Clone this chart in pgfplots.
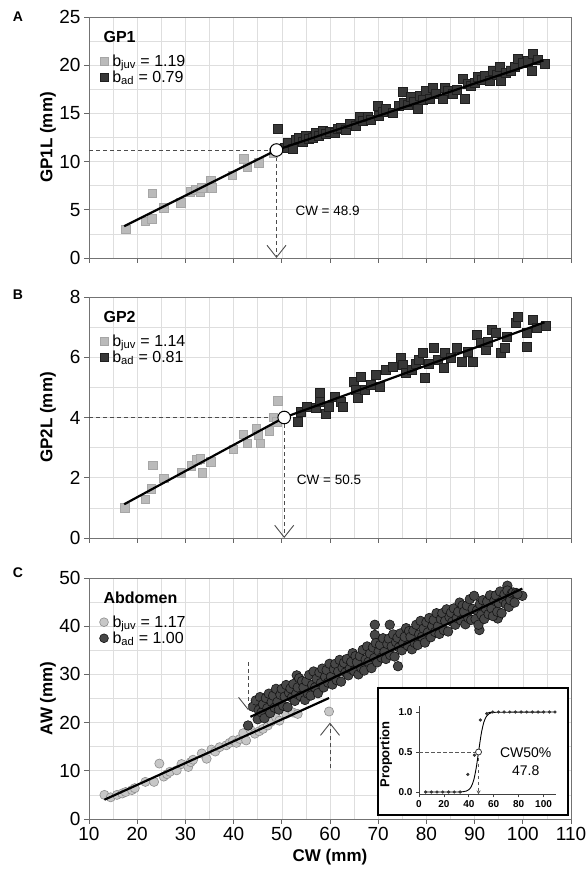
\documentclass[border=0pt]{standalone}
\usepackage{fontspec}
\setmainfont{Liberation Sans}
\usepackage{pgfplots}
\pgfplotsset{compat=1.18}
\usepackage{pgfplotstable}
\usetikzlibrary{arrows.meta}

\newcommand\tickf{\fontsize{19}{19}\selectfont}
\newcommand\labf{\fontsize{17}{17}\selectfont\bfseries}
\newcommand\legf{\fontsize{16}{17}\selectfont}
\newcommand\annf{\fontsize{13.5}{14}\selectfont}

\pgfplotsset{
  panel/.style={
    scale only axis, width=482pt, height=241pt, anchor=south west,
    xmin=10, xmax=110, xtick={10,20,...,110},
    minor x tick num=1, minor y tick num=1,
    grid=both, grid style={black!13, line width=0.6pt},
    minor grid style={black!13, line width=0.6pt},
    tick align=outside, tick pos=left,
    major tick length=5pt, minor tick length=0pt,
    tick style={black!60, line width=0.8pt},
    axis line style={black!55, line width=0.9pt},
    ticklabel style={font=\tickf},
    /pgf/number format/assume math mode=true,
    label style={font=\labf},
    ylabel style={at={(axis description cs:-0.085,0.5)}, anchor=center},
    legend style={at={(axis description cs:0.021,0.853)}, anchor=north west,
      draw=none, fill=none, font=\legf, row sep=-1pt, inner sep=0pt},
    legend cell align=left,
    clip=false, clip marker paths=true,
  },
  juvsq/.style={only marks, mark=square*, mark size=4.3pt,
    mark options={fill=black!27, draw=black!35, line width=0.5pt}},
  adsq/.style={only marks, mark=square*, mark size=4.5pt,
    mark options={fill=black!78, draw=black!88, line width=0.5pt}},
  juvci/.style={only marks, mark=*, mark size=4.6pt,
    mark options={fill=black!22, draw=black!45, line width=0.6pt}},
  adci/.style={only marks, mark=*, mark size=4.8pt,
    mark options={fill=black!72, draw=black!92, line width=0.6pt}},
  fitl/.style={black, line width=2.2pt, forget plot},
  junc/.style={only marks, mark=*, mark size=6.3pt,
    mark options={fill=white, draw=black, line width=1pt}, forget plot},
  legjsq/.style={legend image code/.code={
    \path[draw=none, fill=none] (0pt,-4pt) rectangle (11pt,4pt);
    \filldraw[fill=black!27, draw=black!35, line width=0.5pt] (0.5pt,-4pt) rectangle (8.5pt,4pt);}},
  legasq/.style={legend image code/.code={
    \path[draw=none, fill=none] (0pt,-4pt) rectangle (11pt,4pt);
    \filldraw[fill=black!78, draw=black!88, line width=0.5pt] (0.5pt,-4pt) rectangle (8.5pt,4pt);}},
  legjci/.style={legend image code/.code={
    \path[draw=none, fill=none] (0pt,-4pt) rectangle (11pt,4pt);
    \filldraw[fill=black!22, draw=black!45, line width=0.6pt] (4.5pt,0pt) circle (4.4pt);}},
  legaci/.style={legend image code/.code={
    \path[draw=none, fill=none] (0pt,-4pt) rectangle (11pt,4pt);
    \filldraw[fill=black!72, draw=black!92, line width=0.6pt] (4.5pt,0pt) circle (4.4pt);}},
}
\tikzset{
  dsh/.style={black!70, line width=0.9pt, dash pattern=on 4pt off 3pt},
  varr/.style={dsh, -{Straight Barb[length=12pt, width=19pt, line width=0.9pt]}},
}

\pgfplotstableread{
x y
17.6 3.0
21.7 3.8
23.0 4.1
23.1 6.7
25.5 5.2
29.0 5.7
31.0 6.9
32.1 7.1
33.1 6.9
33.4 7.3
35.2 8.0
35.5 7.3
39.7 8.6
42.1 10.3
42.8 9.4
45.2 9.9
48.2 10.9
}\juvA

\pgfplotstableread{
x y
49.2 13.4
50.6 11.4
51.3 12.0
52.2 11.3
52.8 12.3
53.6 12.5
54.3 12.1
55.0 12.7
55.6 12.4
56.4 12.5
57.0 13.0
57.7 12.7
58.5 13.2
59.2 12.9
59.9 13.1
60.9 13.0
61.6 13.4
62.3 13.5
63.2 13.3
64.0 13.9
65.4 13.7
66.1 14.6
66.8 14.2
67.9 14.6
68.5 14.3
70.0 15.8
70.2 14.8
71.0 15.2
71.6 15.5
73.0 15.1
74.2 15.8
75.1 17.2
75.3 16.1
76.1 15.9
76.8 16.7
77.4 16.2
78.2 15.5
78.6 16.8
79.2 16.4
79.9 17.4
80.6 16.5
81.3 17.7
82.0 17.0
83.4 16.5
83.8 17.7
84.5 17.3
85.5 17.0
86.2 17.5
87.6 18.6
87.9 16.5
88.5 18.1
89.3 17.9
90.0 18.2
90.7 18.8
91.5 18.5
92.2 18.9
93.1 18.4
93.8 19.4
94.5 19.0
95.2 19.8
95.5 18.4
96.5 19.2
97.6 19.4
98.3 19.8
99.0 20.7
100.0 20.3
101.1 20.5
101.8 19.4
102.1 21.2
103.0 20.6
104.5 20.1
}\adA

\pgfplotstableread{
x y
17.4 1.01
21.7 1.29
22.9 1.64
23.2 2.42
25.5 1.98
29.1 2.16
31.2 2.39
32.3 2.59
33.1 2.64
33.5 2.16
35.3 2.53
39.9 2.94
42.0 3.45
42.8 3.14
44.7 3.64
45.1 3.42
45.5 3.14
47.4 3.56
48.2 4.01
49.2 4.56
49.0 3.86
}\juvB

\pgfplotstableread{
x y
53.3 3.86
54.0 4.20
55.2 4.36
57.1 4.31
57.8 4.81
57.9 4.53
59.1 4.14
59.8 4.36
61.0 4.69
62.2 4.53
62.6 4.36
64.9 5.19
65.3 4.92
65.7 4.64
66.4 5.36
67.2 4.92
68.4 5.08
69.5 5.42
70.3 5.03
71.5 5.58
73.0 5.67
74.6 5.97
75.0 5.75
75.7 5.47
76.9 5.58
77.7 5.80
78.4 5.92
79.2 6.14
79.6 5.31
80.4 5.80
81.6 6.30
82.3 5.92
83.5 5.64
83.9 6.14
85.0 5.97
86.2 6.30
87.4 5.86
88.5 6.19
89.7 5.86
90.5 6.75
91.2 6.47
92.4 6.25
92.8 6.53
93.6 6.91
94.3 6.80
95.5 6.14
96.3 6.30
96.7 6.69
98.6 7.14
99.0 7.36
100.9 6.36
100.9 6.80
102.1 7.25
102.9 6.97
104.8 7.03
}\adB

\pgfplotstableread{
x y
13.2 5.0
14.5 4.5
15.8 5.0
16.9 5.3
17.6 5.6
18.9 6.0
19.5 6.4
21.7 7.7
23.5 7.7
24.6 11.5
25.5 8.8
26.2 9.3
26.8 9.8
28.2 10.1
29.2 11.4
30.6 10.8
31.1 11.8
31.6 12.3
33.4 13.6
34.4 12.5
35.4 14.4
36.2 14.0
37.1 14.9
38.5 15.3
39.2 15.8
39.9 16.3
40.6 15.8
41.3 16.6
42.0 17.8
42.6 16.3
43.5 18.5
44.4 17.7
45.3 18.2
46.1 18.7
47.1 19.4
47.8 20.2
48.8 21.1
49.5 20.4
50.9 21.8
52.3 22.1
53.3 21.8
59.8 22.3
}\juvC

\pgfplotstableread{
x y
43.0 19.4
45.0 20.7
47.6 23.5
53.1 29.8
69.3 40.3
72.4 40.3
69.3 38.2
74.1 31.7
91.0 39.2
94.8 41.6
96.8 48.4
99.9 46.3
44.0 23.3
44.6 24.6
45.2 22.6
45.5 25.3
45.8 22.1
46.1 23.8
46.4 20.9
46.7 25.1
47.0 23.0
47.3 26.0
47.6 22.0
47.9 24.3
48.2 25.6
48.5 23.1
48.8 27.0
49.1 24.3
49.4 22.7
49.7 25.8
50.0 27.0
50.3 23.5
50.6 25.4
50.9 27.8
51.2 23.2
51.5 26.2
51.8 27.1
52.1 25.2
52.4 28.0
52.7 24.5
53.0 26.0
53.3 27.3
53.6 29.2
53.9 25.5
54.2 28.6
54.5 27.3
54.8 24.7
55.1 28.6
55.4 26.0
55.7 29.9
56.0 25.6
56.3 27.8
56.6 30.6
56.9 27.3
57.2 29.1
57.5 26.1
57.8 30.4
58.1 28.2
58.4 31.2
58.7 27.3
59.0 29.5
59.3 30.9
59.6 28.3
59.9 32.2
60.2 29.5
60.5 27.9
60.8 31.1
61.1 32.2
61.4 28.8
61.7 30.6
62.0 33.0
62.3 28.5
62.6 31.4
62.9 32.4
63.2 30.4
63.5 33.2
63.8 29.8
64.1 31.2
64.4 32.6
64.7 34.4
65.0 30.7
65.3 33.8
65.6 32.5
65.9 30.0
66.2 33.8
66.5 31.3
66.8 35.1
67.1 30.8
67.4 33.1
67.7 35.8
68.0 32.6
68.3 34.3
68.6 31.3
68.9 35.6
69.2 33.4
69.5 36.5
69.8 32.5
70.1 34.8
70.4 36.1
70.7 33.5
71.0 37.5
71.3 34.7
71.6 33.2
71.9 36.3
72.2 37.4
72.5 34.0
72.8 35.8
73.1 38.3
73.4 33.7
73.7 36.7
74.0 37.6
74.3 35.6
74.6 38.5
74.9 35.0
75.2 36.5
75.5 37.8
75.8 39.6
76.1 36.0
76.4 39.0
76.7 37.8
77.0 35.2
77.3 39.1
77.6 36.5
77.9 40.3
78.2 36.1
78.5 38.3
78.8 41.1
79.1 37.8
79.4 39.5
79.7 36.6
80.0 40.8
80.3 38.7
80.6 41.7
80.9 37.7
81.2 40.0
81.5 41.3
81.8 38.8
82.1 42.7
82.4 40.0
82.7 38.4
83.0 41.5
83.3 42.7
83.6 39.2
83.9 41.1
84.2 43.5
84.5 38.9
84.8 41.9
85.1 42.8
85.4 40.9
85.7 43.7
86.0 40.3
86.3 41.7
86.6 43.0
86.9 44.9
87.2 41.2
87.5 44.3
87.8 43.0
88.1 40.4
88.4 44.3
88.7 41.7
89.0 45.6
89.3 41.3
89.6 43.6
89.9 46.3
90.2 41.5
90.5 43.3
90.8 40.3
91.1 44.6
91.4 42.4
91.7 45.4
92.0 41.5
92.3 43.7
92.6 45.1
92.9 42.5
93.2 46.4
93.5 43.7
93.8 42.1
94.1 45.3
94.4 46.4
94.7 43.0
95.0 44.8
95.3 47.2
95.6 42.7
95.9 45.6
96.2 46.6
96.5 44.6
96.8 47.4
97.1 44.0
97.4 45.4
97.7 46.8
98.0 47.0
98.3 44.9
98.6 46.9
98.9 46.7
}\adC

\pgfplotstableread{
x y
5.3 0
9.9 0
14.4 0
19.1 0
23.8 0
28.3 0
33.0 0
39.2 0.22
44.5 0.46
49.3 0.90
54.4 0.98
59.2 1
63.8 1
68.3 1
72.9 1
77.4 1
82.0 1
86.5 1
91.0 1
95.6 1
100.1 1
104.7 1
109.2 1
}\prop

\begin{document}
\begin{tikzpicture}
\useasboundingbox (0pt,0pt) rectangle (588pt,872pt);

% ---------------- A: GP1 ----------------
\begin{axis}[panel, at={(89pt,614pt)}, ymin=0, ymax=25, ytick={0,5,...,25},
  xticklabels={}, ylabel={GP1L (mm)}]
\addlegendimage{legjsq}\addlegendentry{b\textsubscript{juv} = 1.19}
\addlegendimage{legasq}\addlegendentry{b\textsubscript{ad} = 0.79}
\draw[dsh] (axis cs:10,11.2) -- (axis cs:48.9,11.2);
\draw[varr] (axis cs:48.9,11.2) -- (axis cs:48.9,0);
\addplot[juvsq, forget plot] table {\juvA};
\addplot[adsq, forget plot] table {\adA};
\addplot[fitl] coordinates {(17.3,3.3) (48.9,11.2)};
\addplot[fitl] coordinates {(48.9,11.2) (104.3,20.5)};
\addplot[junc] coordinates {(48.9,11.2)};
\node[font=\annf, anchor=center] at (axis cs:59.5,4.9) {CW = 48.9};
\node[font=\legf\bfseries, anchor=west] at (axis description cs:0.023,0.917) {GP1};
\end{axis}

% ---------------- B: GP2 ----------------
\begin{axis}[panel, at={(89pt,334pt)}, ymin=0, ymax=8, ytick={0,2,...,8},
  xticklabels={}, ylabel={GP2L (mm)}]
\addlegendimage{legjsq}\addlegendentry{b\textsubscript{juv} = 1.14}
\addlegendimage{legasq}\addlegendentry{b\textsubscript{ad} = 0.81}
\draw[dsh] (axis cs:10,4.0) -- (axis cs:50.5,4.0);
\draw[varr] (axis cs:50.5,4.0) -- (axis cs:50.5,0);
\addplot[juvsq, forget plot] table {\juvB};
\addplot[adsq, forget plot] table {\adB};
\addplot[fitl] coordinates {(17.3,1.12) (50.5,4.0)};
\addplot[fitl] coordinates {(50.5,4.0) (104.5,7.16)};
\addplot[junc] coordinates {(50.5,4.0)};
\node[font=\annf, anchor=center] at (axis cs:59.8,1.94) {CW = 50.5};
\node[font=\legf\bfseries, anchor=west] at (axis description cs:0.023,0.917) {GP2};
\end{axis}

% ---------------- C: Abdomen ----------------
\begin{axis}[panel, at={(89pt,53pt)}, ymin=0, ymax=50, ytick={0,10,...,50},
  xlabel={CW (mm)}, ylabel={AW (mm)},
  xlabel style={at={(axis description cs:0.5,-0.16)}, anchor=center}]
\addlegendimage{legjci}\addlegendentry{b\textsubscript{juv} = 1.17}
\addlegendimage{legaci}\addlegendentry{b\textsubscript{ad} = 1.00}
\addplot[juvci, forget plot] table {\juvC};
\addplot[adci, forget plot] table {\adC};
\addplot[fitl] coordinates {(13.2,4.0) (59.8,25.1)};
\addplot[fitl] coordinates {(43.5,21.2) (99.9,47.8)};
\draw[varr] (axis cs:43,32.5) -- (axis cs:43,22.6);
\draw[varr] (axis cs:60,10.5) -- (axis cs:60,20.0);
\node[font=\legf\bfseries, anchor=west] at (axis description cs:0.023,0.917) {Abdomen};
\end{axis}

% ---------------- inset ----------------
\filldraw[fill=white, draw=black, line width=1.2pt] (378pt,57pt) rectangle (568pt,184pt);
\begin{axis}[at={(419pt,77.6pt)}, anchor=south west, scale only axis,
  width=137pt, height=88.8pt, xmin=0, xmax=110, ymin=-0.03, ymax=1.08,
  axis lines=left, axis line style={-, black!75, line width=1pt},
  xtick={0,20,...,100}, ytick={0,0.5,1}, yticklabels={0.0,0.5,1.0},
  tick align=outside, major tick length=3pt, tick style={black!75, line width=0.8pt},
  ticklabel style={font=\fontsize{10}{10}\selectfont\bfseries},
  /pgf/number format/assume math mode=true,
  ylabel={Proportion}, ylabel style={font=\fontsize{13}{13}\selectfont\bfseries,
    at={(axis description cs:-0.24,0.45)}, anchor=center},
  clip=false, clip marker paths=true]
\draw[black!65, line width=0.9pt, dash pattern=on 3.5pt off 2.5pt] (axis cs:0,0.5) -- (axis cs:47.8,0.5);
\draw[black!65, line width=0.9pt, dash pattern=on 3.5pt off 2.5pt, -{Stealth[length=4pt,width=4pt]}] (axis cs:47.8,0.5) -- (axis cs:47.8,-0.03);
\addplot[black, line width=0.9pt, smooth] coordinates {
  (5,0) (30,0) (36,0.005) (38,0.012) (40,0.029) (42,0.069) (44,0.153)
  (46,0.308) (47.8,0.5) (50,0.729) (52,0.869) (54,0.942) (56,0.976)
  (58,0.99) (60,0.996) (110,1)};
\addplot[only marks, mark=*, mark size=1.4pt, black!80] table {\prop};
\addplot[only marks, mark=*, mark size=3pt, mark options={fill=white, draw=black!80, line width=0.8pt}] coordinates {(47.8,0.5)};
\node[font=\fontsize{14}{14}\selectfont] at (axis cs:85.7,0.49) {CW50\%};
\node[font=\fontsize{14}{14}\selectfont] at (axis cs:85.7,0.27) {47.8};
\end{axis}

\node[font=\fontsize{14}{14}\selectfont\bfseries] at (18pt,855pt) {A};
\node[font=\fontsize{14}{14}\selectfont\bfseries] at (18pt,577pt) {B};
\node[font=\fontsize{14}{14}\selectfont\bfseries] at (18pt,299pt) {C};
\end{tikzpicture}
\end{document}
